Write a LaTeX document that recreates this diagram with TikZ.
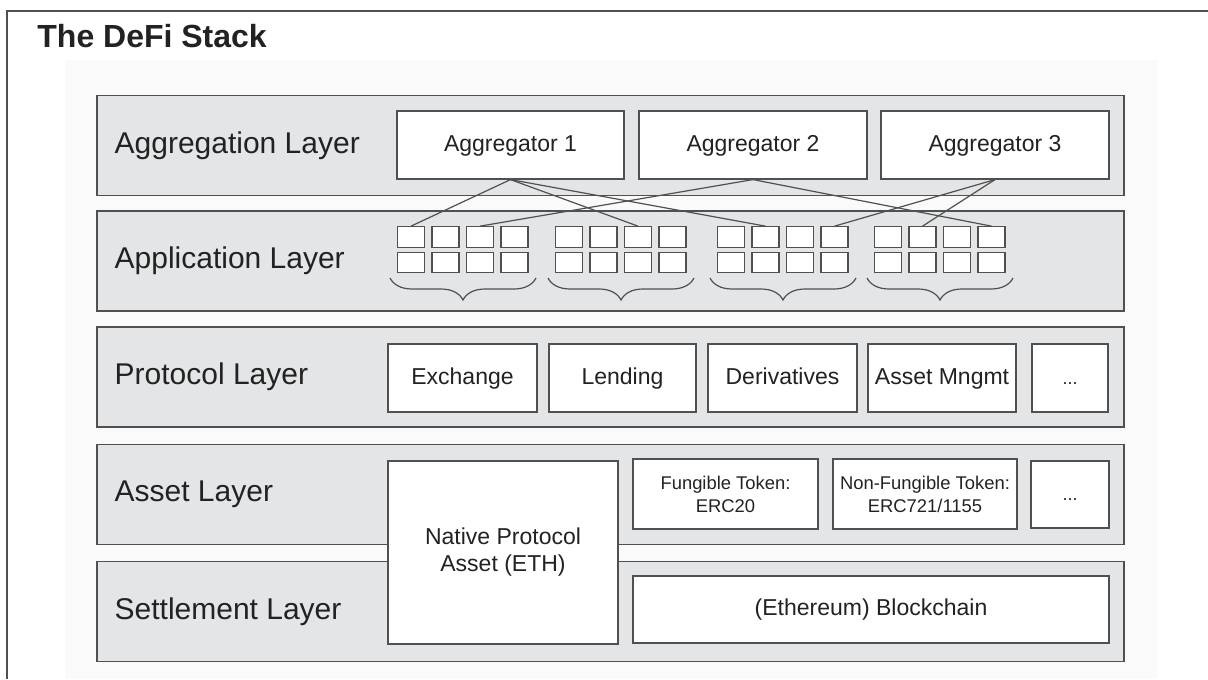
\documentclass[tikz,border=0pt]{standalone}
\usepackage{fontspec}
\setmainfont{Liberation Sans}
\usetikzlibrary{positioning,decorations.pathreplacing}
\definecolor{layergray}{RGB}{228,229,231}
\definecolor{edgegray}{RGB}{80,80,80}
\definecolor{textgray}{RGB}{34,34,34}
\tikzset{
  layer/.style={draw=edgegray, fill=layergray, line width=0.75pt, minimum width=513.5pt, minimum height=50pt, inner sep=0pt},
  layertext/.style={font=\fontsize{15}{18}\selectfont, text=textgray, inner sep=0pt},
  box/.style={draw=edgegray, fill=white, line width=0.6pt, inner sep=0pt, text=textgray, align=center, font=\fontsize{11.5}{13.5}\selectfont},
  block/.style={box, text height=8.5pt, text depth=2.4pt},
  token/.style={box, font=\fontsize{9.2}{11.5}\selectfont},
  appbox/.style={draw=edgegray, fill=white, line width=0.6pt, minimum width=13.5pt, minimum height=10.25pt, inner sep=0pt},
  link/.style={draw=edgegray, line width=0.6pt}
}
\tikzset{
  pics/appgroup/.style={
    code={
      \foreach \k in {1,...,4}{
        \node[appbox] (-t\k) at ({(\k-1)*34.5}, 0) {};
        \node[appbox] (-b\k) at ({(\k-1)*34.5}, 25.5) {};
      }
      \draw[edgegray, line width=0.6pt, decorate, decoration={brace, amplitude=11pt}] (125, 41) -- (-21, 41);
}}}

\begin{document}
\begin{tikzpicture}[x=0.5pt, y=-0.5pt]
  \useasboundingbox (0,0) rectangle (1208,679);
  \fill[black!2] (65,60) rectangle (1157,679);
  \draw[edgegray, line width=1pt] (1208,11) -- (7,11) -- (7,679);
  \node[anchor=base west, inner sep=0pt, text=textgray, font=\fontsize{16}{19}\selectfont\bfseries] (title) at (37,48) {The DeFi Stack};

  % layers
  \node[layer] (agg) at (610.5,145.5) {};
  \node[layer] (app) at (610.5,261) {};
  \node[layer] (prot) at (610.5,377) {};
  \node[layer] (asset) at (610.5,494.5) {};
  \node[layer] (settle) at (610.5,611.5) {};
  \node[layertext, right=9pt of agg.west] (aggl) {Aggregation Layer};
  \node[layertext, right=9pt of app.west] (appl) {Application Layer};
  \node[layertext, right=9pt of prot.west] (protl) {Protocol Layer};
  \node[layertext, right=9pt of asset.west] (assetl) {Asset Layer};
  \node[layertext, right=9pt of settle.west] (settlel) {Settlement Layer};

  % aggregation
  \node[block, minimum width=113.5pt, minimum height=34pt] (agg1) at (510.5,145) {Aggregator 1};
  \node[block, minimum width=114pt, minimum height=34pt] (agg2) at (753,145) {Aggregator 2};
  \node[block, minimum width=114pt, minimum height=34pt] (agg3) at (995,145) {Aggregator 3};

  % applications
  \pic (g1) at (411,237) {appgroup};
  \pic (g2) at (569,237) {appgroup};
  \pic (g3) at (731,237) {appgroup};
  \pic (g4) at (888,237) {appgroup};
  \draw[link] (agg1.south) -- (g1-t1.north);
  \draw[link] (agg1.south) -- (g2-t3.north);
  \draw[link] (agg1.south) -- (g3-t2.north);
  \draw[link] (agg2.south) -- (g1-t3.north);
  \draw[link] (agg2.south) -- (g4-t4.north);
  \draw[link] (agg3.south) -- (g3-t4.north);
  \draw[link] (agg3.south) -- (g4-t2.north);

  % protocols
  \node[block, minimum width=74.5pt, minimum height=34pt] (exch) at (462.5,378) {Exchange};
  \node[block, minimum width=73.5pt, minimum height=34pt] (lend) at (622.5,378) {Lending};
  \node[block, minimum width=74.5pt, minimum height=34pt] (deriv) at (782.5,378) {Derivatives};
  \node[block, minimum width=74pt, minimum height=34pt] (mngmt) at (942,378) {Asset Mngmt};
  \node[block, minimum width=38pt, minimum height=34pt, font=\fontsize{9}{11}\selectfont] (protx) at (1070,378) {...};

  % assets and settlement
  \node[token, minimum width=92.5pt, minimum height=35pt] (fung) at (725.5,494) {Fungible Token:\\ERC20};
  \node[token, minimum width=92pt, minimum height=35pt] (nfung) at (925,494) {Non-Fungible Token:\\ERC721/1155};
  \node[block, minimum width=39pt, minimum height=33.5pt, font=\fontsize{9}{11}\selectfont] (assetx) at (1070,494.5) {...};
  \node[block, minimum width=238pt, minimum height=33.5pt] (chain) at (871,609.5) {(Ethereum) Blockchain};
  \node[box, minimum width=115pt, minimum height=91.5pt] (native) at (503,552.5) {Native Protocol\\Asset (ETH)};
\end{tikzpicture}
\end{document}
